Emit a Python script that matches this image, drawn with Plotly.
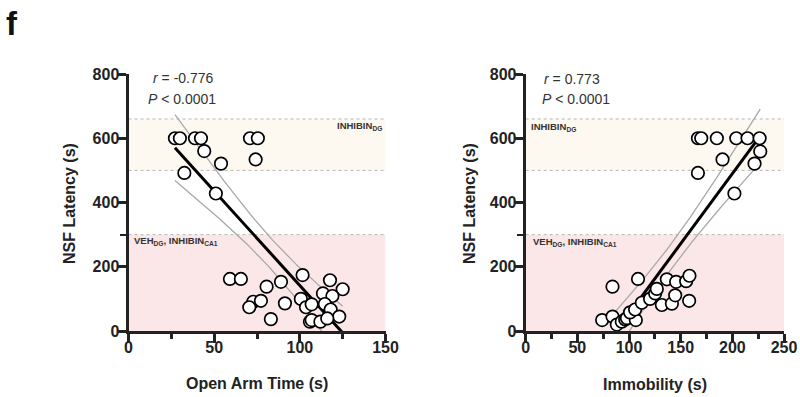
import numpy as np
import plotly.graph_objects as go

# ---- data ----
open_arm = [27.1, 30, 38.8, 42.3, 70.9, 75.5, 44.2, 54, 32.6, 74.2, 51,
            59.2, 65.6, 80.6, 89, 101.6, 117.6, 125, 113.5, 119, 72.8, 77.3, 70.5,
            91.3, 100.6, 103.6, 106.9, 114.6, 118, 123, 83.1, 105.9, 106.9, 112, 116]
lat_open = [600, 600, 600, 600, 600, 600, 560, 521, 492, 534, 428,
            162, 162, 138, 153, 174, 158, 130, 117, 109, 91, 94, 74,
            86, 100, 74, 83, 84, 67, 45, 37, 29, 34, 29, 39]

immob = [166.7, 169.9, 185, 203.8, 214.7, 226.4, 227, 190.5, 221.5, 166.7, 202,
         74, 84, 84, 88.2, 93, 96.3, 98, 106.6, 101, 105.9, 112.4, 108.7, 120.4,
         125.3, 126.9, 131.8, 141.5, 136.6, 144.7, 145.6, 155.3, 158.5, 158.2]
lat_immob = [600, 600, 600, 600, 600, 600, 559, 534, 521, 492, 428,
             34, 45, 138, 20, 29, 36, 40, 34, 58, 67, 88, 162, 100,
             117, 131, 81, 85, 161, 111, 153, 155, 172, 94]

x_ticks_left = [0, 50, 100, 150]
x_ticks_right = [0, 50, 100, 150, 200, 250]
y_ticks = [0, 200, 400, 600, 800]
band_dg = [500, 660]
band_veh = [0, 300]
stats_left = ["<i>r</i> = -0.776", "<i>P</i> < 0.0001"]
stats_right = ["<i>r</i> = 0.773", "<i>P</i> < 0.0001"]

FONT = "Liberation Sans, Arial, Helvetica, sans-serif"
DARK = "#222222"
CREAM = "rgb(254,249,240)"
PINK = "rgb(251,231,231)"
GRAY = "#a8a8a8"


def fit_with_ci(x, y, t=2.035, n_pts=80):
    x = np.asarray(x, float)
    y = np.asarray(y, float)
    n = len(x)
    b, a = np.polyfit(x, y, 1)
    resid = y - (a + b * x)
    s = np.sqrt(np.sum(resid ** 2) / (n - 2))
    xbar = x.mean()
    sxx = np.sum((x - xbar) ** 2)
    xg = np.linspace(x.min(), x.max(), n_pts)
    yg = a + b * xg
    se = s * np.sqrt(1.0 / n + (xg - xbar) ** 2 / sxx)
    return xg, yg, yg - t * se, yg + t * se


fig = go.Figure()

panels = [
    ("x", "y", open_arm, lat_open, 150),
    ("x2", "y2", immob, lat_immob, 250),
]

for xa, ya, xs, ys, xmax in panels:
    xg, yg, lo, hi = fit_with_ci(xs, ys)
    for band in (lo, hi):
        fig.add_trace(go.Scatter(x=xg, y=band, mode="lines", xaxis=xa, yaxis=ya,
                                 line=dict(color=GRAY, width=1.3), hoverinfo="skip"))
    fig.add_trace(go.Scatter(x=xg, y=yg, mode="lines", xaxis=xa, yaxis=ya,
                             line=dict(color="black", width=3), hoverinfo="skip"))
    fig.add_trace(go.Scatter(x=xs, y=ys, mode="markers", xaxis=xa, yaxis=ya,
                             cliponaxis=False,
                             marker=dict(size=12.5, color="white",
                                         line=dict(color="black", width=1.7))))
    # bands
    fig.add_shape(type="rect", xref=xa, yref=ya, x0=0, x1=xmax, y0=band_dg[0], y1=band_dg[1],
                  fillcolor=CREAM, line=dict(width=0), layer="below")
    fig.add_shape(type="rect", xref=xa, yref=ya, x0=0, x1=xmax, y0=band_veh[0], y1=band_veh[1],
                  fillcolor=PINK, line=dict(width=0), layer="below")
    for yv in (band_dg[0], band_dg[1], band_veh[1]):
        fig.add_shape(type="line", xref=xa, yref=ya, x0=0, x1=xmax, y0=yv, y1=yv,
                      line=dict(color="#b5b5b5", width=1, dash="dot"), layer="below")

axis_common = dict(showline=True, linewidth=3, linecolor=DARK, showgrid=False, zeroline=False,
                   ticks="outside", ticklen=9, tickwidth=3, tickcolor=DARK, automargin=False,
                   tickfont=dict(family=FONT, size=16, color=DARK, weight="bold"),
                   fixedrange=True)
xminor = dict(dtick=25, tick0=0, ticks="outside", ticklen=5, tickwidth=2.5, tickcolor=DARK)
yminor = dict(tickvals=[300], ticks="outside", ticklen=6, tickwidth=1.5, tickcolor=DARK)

ydom = [(397 - 331) / 397, (397 - 74) / 397]
fig.update_layout(
    template="none",
    width=800, height=397, margin=dict(l=0, r=0, t=0, b=0, autoexpand=False),
    paper_bgcolor="white", plot_bgcolor="rgba(0,0,0,0)", showlegend=False,
    xaxis=dict(domain=[128.5 / 800, 385.5 / 800], range=[0, 150], tickvals=x_ticks_left,
               minor=xminor, anchor="y", ticklabelstandoff=-9, **axis_common),
    yaxis=dict(domain=ydom, range=[0, 800], tickvals=y_ticks,
               minor=yminor, anchor="x", ticklabelstandoff=-6, **axis_common),
    xaxis2=dict(domain=[525.7 / 800, 784 / 800], range=[0, 250], tickvals=x_ticks_right,
                minor=xminor, anchor="y2", ticklabelstandoff=-9, **axis_common),
    yaxis2=dict(domain=ydom, range=[0, 800], tickvals=y_ticks,
                minor=yminor, anchor="x2", ticklabelstandoff=-6, **axis_common),
)

ann = []
bold = dict(family=FONT, color=DARK, weight="bold")
# panel letter
ann.append(dict(text="f", xref="paper", yref="paper", x=4 / 800, y=1 - 23 / 397,
                xanchor="left", yanchor="middle", showarrow=False,
                font=dict(family=FONT, size=33, color="#111", weight="bold")))
# axis titles
titles = [("NSF Latency (s)", 69, 204, -90), ("NSF Latency (s)", 469, 204, -90),
          ("Open Arm Time (s)", 257, 383, 0), ("Immobility (s)", 655, 384, 0)]
for txt, px, py, ang in titles:
    ann.append(dict(text=txt, xref="paper", yref="paper", x=px / 800, y=1 - py / 397,
                    xanchor="center", yanchor="middle", textangle=ang, showarrow=False,
                    font=dict(size=16, **bold)))
# stats
stat_font = dict(family=FONT, size=14, color="#333")
ann.append(dict(text=stats_left[0], xref="x", yref="y", x=13.3, y=786, xanchor="left",
                yanchor="middle", showarrow=False, font=stat_font))
ann.append(dict(text=stats_left[1], xref="x", yref="y", x=10.0, y=721, xanchor="left",
                yanchor="middle", showarrow=False, font=stat_font))
ann.append(dict(text=stats_right[0], xref="x2", yref="y2", x=15.8, y=783, xanchor="left",
                yanchor="middle", showarrow=False, font=stat_font))
ann.append(dict(text=stats_right[1], xref="x2", yref="y2", x=14.3, y=721, xanchor="left",
                yanchor="middle", showarrow=False, font=stat_font))
# band labels
lab_font = dict(family=FONT, size=9.5, color="#333", weight="bold")
ann.append(dict(text="INHIBIN<sub>DG</sub>", xref="x", yref="y", x=149, y=637, xanchor="right",
                yanchor="middle", showarrow=False, font=lab_font))
ann.append(dict(text="VEH<sub>DG</sub>, INHIBIN<sub>CA1</sub>", xref="x", yref="y", x=2.2, y=281,
                xanchor="left", yanchor="middle", showarrow=False, font=lab_font))
ann.append(dict(text="INHIBIN<sub>DG</sub>", xref="x2", yref="y2", x=3.6, y=634, xanchor="left",
                yanchor="middle", showarrow=False, font=lab_font))
ann.append(dict(text="VEH<sub>DG</sub>, INHIBIN<sub>CA1</sub>", xref="x2", yref="y2", x=5.5, y=277,
                xanchor="left", yanchor="middle", showarrow=False, font=lab_font))
fig.update_layout(annotations=ann)

fig.write_html("out.html")
